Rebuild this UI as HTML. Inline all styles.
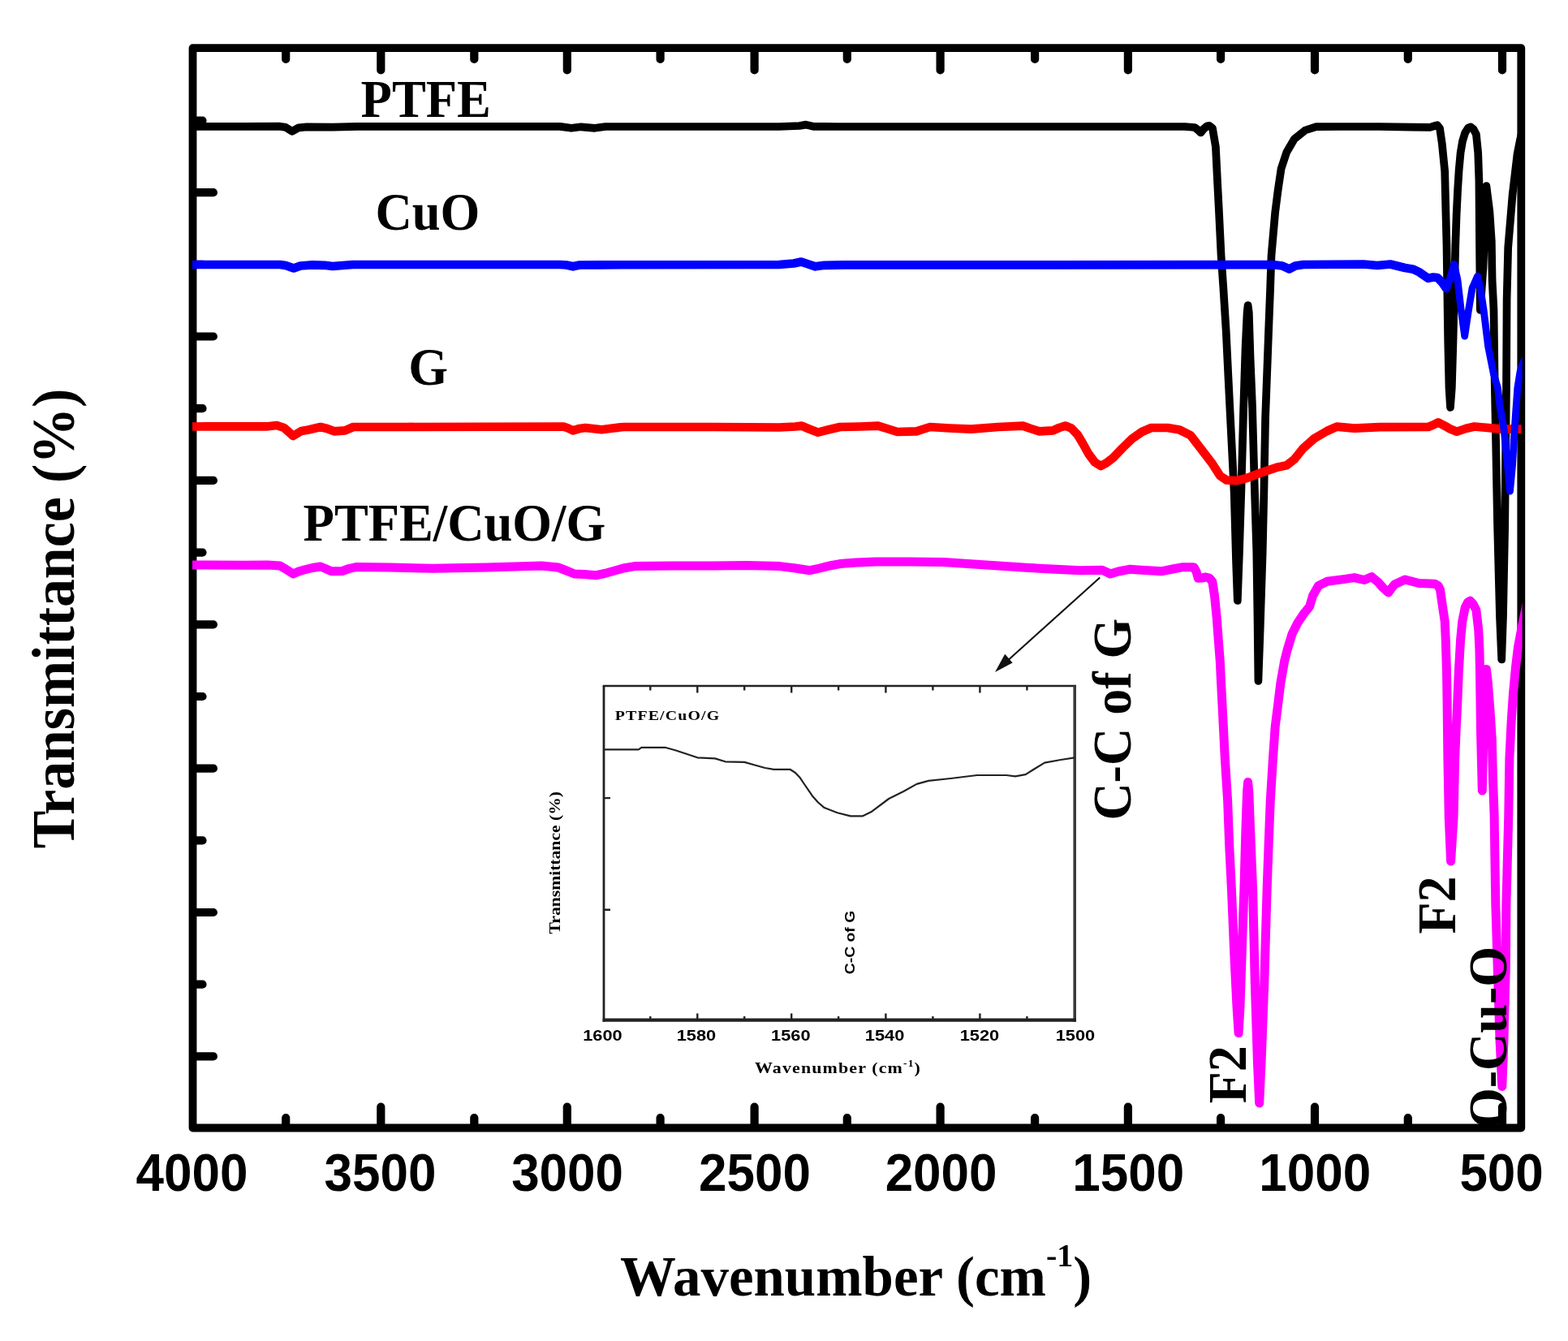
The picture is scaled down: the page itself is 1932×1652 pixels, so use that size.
<!DOCTYPE html>
<html lang="en"><head><meta charset="utf-8"><title>FTIR spectra</title>
<style>html,body{margin:0;padding:0;background:#fff}body{width:1932px;height:1652px;overflow:hidden}svg{display:block}.s{font-family:"Liberation Serif","DejaVu Serif",serif;font-weight:bold;fill:#000}.a{font-family:"Liberation Sans","DejaVu Sans",sans-serif;font-weight:bold;fill:#000}</style></head><body>
<svg width="1932" height="1652" viewBox="0 0 1932 1652">
<rect width="1932" height="1652" fill="#fff"/>
<defs><clipPath id="pc"><rect x="236.5" y="59.2" width="1639.1" height="1330.3"/></clipPath></defs>
<g fill="none" stroke="#000" stroke-width="9.8" stroke-linejoin="round" stroke-linecap="round">
<rect x="237.5" y="59.2" width="1636.8" height="1330.3"/>
<path stroke-width="10.2" d="M469.3 60.7V86.5M469.3 1388.0V1363.5M698.8 60.7V86.5M698.8 1388.0V1363.5M929.6 60.7V86.5M929.6 1388.0V1363.5M1158.6 60.7V86.5M1158.6 1388.0V1363.5M1389.9 60.7V86.5M1389.9 1388.0V1363.5M1620.0 60.7V86.5M1620.0 1388.0V1363.5M1851.0 60.7V86.5M1851.0 1388.0V1363.5M352.2 60.7V72.9M352.2 1388.0V1377.1M584.3 60.7V72.9M584.3 1388.0V1377.1M813.6 60.7V72.9M813.6 1388.0V1377.1M1043.8 60.7V72.9M1043.8 1388.0V1377.1M1275.1 60.7V72.9M1275.1 1388.0V1377.1M1504.1 60.7V72.9M1504.1 1388.0V1377.1M1734.8 60.7V72.9M1734.8 1388.0V1377.1M239.0 237.2H262.9M239.0 414.5H262.9M239.0 591.9H262.9M239.0 769.3H262.9M239.0 946.7H262.9M239.0 1124.0H262.9M239.0 1301.4H262.9M239.0 148.5H249.5M239.0 325.9H249.5M239.0 503.2H249.5M239.0 680.6H249.5M239.0 858.0H249.5M239.0 1035.4H249.5M239.0 1212.7H249.5"/>
</g>
<g fill="none" stroke-linejoin="round" stroke-linecap="butt" clip-path="url(#pc)">
<polyline stroke="#000" stroke-width="9.7" points="237.0,155.8 300.0,155.9 345.0,155.7 352.0,156.9 360.0,161.8 368.0,157.3 378.0,156.3 410.0,156.7 440.0,155.9 690.0,155.9 704.0,157.8 716.0,156.3 733.0,157.8 746.0,156.0 960.0,156.0 985.0,155.0 993.0,153.6 1002.0,155.8 1030.0,156.0 1300.0,156.0 1460.0,156.0 1472.0,157.0 1476.0,160.0 1479.5,163.5 1483.0,159.0 1487.0,155.5 1490.0,154.8 1494.0,158.0 1497.9,180.7 1499.9,221.0 1502.0,261.5 1504.6,315.0 1507.3,353.8 1510.7,407.7 1513.3,461.5 1516.0,515.3 1520.7,607.7 1523.0,690.0 1524.8,740.0 1527.0,680.0 1529.5,600.0 1532.0,510.0 1534.5,430.0 1536.6,385.0 1537.6,376.0 1538.8,385.0 1540.5,440.0 1543.0,500.0 1545.5,590.0 1548.3,680.0 1549.5,760.0 1550.4,839.0 1552.5,780.0 1555.7,680.0 1557.5,600.0 1559.1,515.0 1561.1,461.5 1563.1,407.7 1565.2,353.8 1566.5,315.0 1567.8,300.0 1571.2,261.5 1574.6,234.6 1578.6,207.7 1585.3,187.5 1594.8,171.3 1608.2,160.5 1621.7,156.1 1650.0,156.0 1700.0,156.0 1740.0,156.6 1762.0,156.8 1768.0,155.0 1771.0,154.2 1774.0,158.0 1776.8,176.9 1780.2,211.1 1781.3,256.6 1782.5,302.2 1784.2,420.0 1785.5,478.0 1787.0,502.0 1788.8,478.0 1790.5,420.0 1793.3,302.0 1794.6,265.0 1796.1,233.9 1797.6,210.0 1799.6,188.3 1802.0,174.0 1805.3,163.3 1809.0,157.5 1812.1,156.4 1815.5,159.0 1818.9,165.5 1821.2,188.3 1822.4,222.5 1823.0,300.0 1823.8,382.0 1827.5,330.0 1830.0,262.0 1831.4,229.0 1835.4,260.5 1837.8,297.0 1838.6,345.0 1840.5,381.6 1841.5,460.0 1845.1,648.0 1848.0,760.0 1850.2,812.5 1852.0,760.0 1854.2,648.0 1856.0,478.0 1856.6,369.5 1858.2,305.0 1863.6,240.0 1869.5,190.0 1873.2,171.3 1876.0,160.0 1880.0,145.0"/>
<polyline stroke="#f00" stroke-width="10.7" points="237.0,525.5 330.0,525.3 341.0,524.0 350.0,527.0 361.2,537.0 371.3,531.0 380.0,529.5 394.9,526.0 403.0,528.0 411.7,531.3 425.2,530.3 435.3,526.0 500.0,526.0 694.3,525.5 700.0,527.5 706.1,530.3 714.0,528.0 721.3,527.0 741.4,529.3 755.0,527.5 768.4,526.0 880.0,526.0 960.0,526.5 980.0,525.5 987.9,524.6 997.0,528.5 1008.0,532.7 1020.0,529.5 1035.0,526.0 1060.0,525.5 1082.0,524.6 1093.0,528.0 1105.6,532.0 1129.2,531.3 1138.0,528.5 1146.0,526.0 1170.0,527.5 1196.5,528.6 1230.0,526.0 1260.4,524.6 1270.0,528.0 1280.6,531.3 1297.4,530.3 1305.0,527.0 1312.6,524.6 1320.0,527.5 1327.7,535.4 1334.0,546.0 1341.2,559.0 1349.0,569.5 1356.3,574.0 1363.0,570.5 1371.5,564.0 1383.0,552.0 1395.0,540.4 1407.0,532.0 1418.6,527.0 1438.7,527.0 1453.5,529.6 1466.9,536.3 1480.4,553.8 1493.8,571.3 1503.3,586.1 1511.3,591.5 1523.4,592.2 1536.9,588.8 1554.4,582.1 1574.6,575.4 1585.3,573.3 1594.8,565.9 1605.5,552.5 1619.0,540.4 1635.1,531.0 1647.2,525.6 1668.8,527.6 1700.0,526.2 1759.7,526.0 1766.0,523.5 1772.2,520.4 1779.0,524.0 1787.0,528.5 1795.0,531.7 1806.0,528.0 1816.6,525.5 1848.5,528.3 1874.5,528.5"/>
<polyline stroke="#00f" stroke-width="10.7" points="237.0,326.0 345.0,326.0 352.0,327.0 361.9,330.5 370.0,327.5 385.0,326.3 400.0,326.8 410.0,328.0 422.0,327.0 435.0,326.0 690.0,326.0 698.0,326.5 706.0,328.3 714.0,326.5 740.0,326.3 960.0,326.0 978.0,324.5 987.2,322.5 996.0,325.5 1004.7,328.3 1016.0,326.8 1040.0,326.3 1300.0,326.3 1570.0,326.2 1580.0,327.5 1588.4,331.4 1596.0,327.5 1606.0,326.0 1680.0,325.5 1697.1,327.0 1713.0,325.5 1731.2,330.0 1741.6,331.8 1748.3,335.0 1759.7,342.8 1766.0,341.5 1771.1,342.0 1777.0,348.0 1782.5,356.0"/>
<polyline stroke="#00f" stroke-width="8.8" stroke-linecap="round" points="1782.5,356.0 1786.0,345.0 1791.6,325.3 1796.0,345.0 1800.0,380.0 1804.7,414.1 1809.0,385.0 1814.0,355.0 1820.6,340.1 1824.0,355.0 1828.0,381.1 1833.6,426.6 1840.4,460.8 1845.5,478.0 1848.0,500.0 1853.0,528.3 1857.6,573.9 1860.5,605.0 1863.5,573.9 1866.2,528.3 1868.2,500.0 1869.8,478.0 1873.0,458.0 1877.0,446.0 1881.0,438.0 1884.0,432.0"/>
<polyline stroke="#f0f" stroke-width="11" points="237.0,696.0 300.0,696.3 330.0,696.0 345.0,697.0 352.0,701.0 361.2,707.0 368.0,704.0 374.7,702.0 385.0,699.5 394.9,698.0 401.0,700.5 408.3,703.7 421.8,703.5 430.0,700.5 438.6,698.6 480.0,699.0 532.8,700.3 600.0,699.0 667.4,697.0 687.6,699.0 698.0,703.0 707.8,707.0 720.0,707.5 734.7,708.7 745.0,706.5 754.9,703.7 768.0,700.0 781.8,697.6 830.0,697.0 880.0,697.0 920.0,696.5 961.0,697.6 980.0,700.0 998.0,702.7 1010.0,700.0 1022.0,697.0 1035.0,694.6 1055.0,693.0 1078.7,691.9 1120.0,692.0 1162.8,692.6 1200.0,695.0 1230.1,697.0 1280.6,700.3 1331.1,702.7 1358.0,702.3 1363.0,704.5 1368.0,707.0 1378.0,704.0 1391.6,701.3 1410.0,702.5 1432.0,703.7 1445.0,701.0 1456.1,698.8 1471.0,698.8 1474.0,704.0 1476.3,712.3 1481.0,712.0 1485.8,711.0 1490.0,712.0 1493.8,716.3 1496.5,733.8 1499.2,760.7 1501.2,787.7 1503.3,814.6 1504.6,841.5 1506.6,880.0 1509.3,933.8 1512.7,987.7 1514.7,1041.5 1517.4,1095.0 1521.0,1180.0 1524.0,1240.0 1526.1,1272.6 1528.0,1240.0 1531.0,1150.0 1532.9,1096.0 1535.0,1020.0 1536.6,975.0 1537.6,963.5 1538.8,975.0 1540.5,1020.0 1543.6,1096.0 1546.3,1211.0 1549.5,1310.0 1551.7,1359.0 1554.0,1310.0 1557.8,1211.0 1561.1,1096.0 1563.1,1041.5 1565.2,987.7 1568.5,933.8 1571.2,895.3 1574.6,868.4 1577.9,841.5 1582.6,814.6 1586.0,801.1 1592.1,780.9 1598.8,767.5 1606.9,755.4 1613.6,747.3 1617.6,733.8 1624.4,721.7 1635.1,716.3 1655.3,713.6 1668.8,711.6 1680.9,714.5 1690.2,710.6 1698.2,717.4 1704.0,724.0 1710.7,730.0 1715.0,724.0 1718.7,719.7 1731.2,714.0 1748.3,718.5 1767.7,719.2 1772.0,721.5 1774.5,726.5 1776.8,742.5 1780.2,765.3 1781.3,788.0 1782.5,828.0 1783.1,865.0 1783.5,900.0 1783.9,934.0 1785.3,1008.0 1787.6,1061.0 1791.0,1008.0 1792.7,934.0 1794.1,900.0 1795.8,865.0 1797.3,828.0 1799.6,788.0 1801.8,765.3 1805.3,748.2 1808.5,742.0 1811.5,740.2 1815.0,744.0 1818.9,751.6 1821.8,776.6 1822.9,799.4 1823.5,828.0 1824.5,900.0 1826.3,974.0 1828.0,900.0 1830.0,850.0 1831.4,824.5 1833.2,840.0 1836.0,875.0 1838.3,911.0 1839.4,956.6 1841.1,1004.0 1842.8,1114.0 1845.1,1188.0 1848.0,1280.0 1850.8,1338.5 1853.0,1280.0 1855.4,1188.0 1855.9,1114.0 1858.8,1004.0 1859.9,934.0 1862.2,888.0 1864.5,854.0 1867.5,822.0 1870.5,797.0 1874.4,776.6 1879.0,754.0 1882.0,740.0"/>
</g>
<g stroke="#111" fill="#111"><line x1="1355.2" y1="711.5" x2="1238" y2="817" stroke-width="2.1"/><polygon points="1226,827.9 1238.2,805.8 1247.6,816.6" stroke="none"/></g>
<g fill="none" stroke="#222">
<path d="M742.7 845.0H1326.0" stroke-width="2.6"/>
<path d="M744.0 845.0V1258.8" stroke-width="2.8"/>
<path d="M1324.2 845.0V1258.8" stroke-width="3.6" stroke="#3a3a3a"/>
<path d="M742.6 1256.6H1326.0" stroke-width="4.4"/>
<path d="M859.3 845.0v8.5M859.3 1256.6v-8M975.2 845.0v8.5M975.2 1256.6v-8M1091.4 845.0v8.5M1091.4 1256.6v-8M1207.4 845.0v8.5M1207.4 1256.6v-8M801.3 845.0v5.5M801.3 1256.6v-4.5M917.2 845.0v5.5M917.2 1256.6v-4.5M1033.1 845.0v5.5M1033.1 1256.6v-4.5M1149.4 845.0v5.5M1149.4 1256.6v-4.5M1265.4 845.0v5.5M1265.4 1256.6v-4.5M744.0 983.1h8M744.0 1120.8h8" stroke-width="2.4"/>
<polyline stroke="#222" stroke-width="2.2" stroke-linejoin="round" points="743.7,923.3 786.8,923.3 790.4,920.8 819.4,920.8 832.1,924.2 845.0,928.5 859.3,933.3 881.0,934.4 893.7,938.3 917.2,938.9 930.0,942.5 942.6,946.0 953.5,947.8 973.4,947.8 980.0,952.0 986.1,958.6 990.0,964.5 1000.9,980.4 1008.0,988.5 1015.4,994.9 1031.7,1001.2 1048.0,1005.4 1062.5,1005.4 1073.3,1000.3 1095.1,984.0 1113.2,975.0 1129.5,965.9 1144.0,961.9 1171.2,959.0 1203.8,955.0 1240.0,955.0 1250.9,956.4 1263.6,954.1 1275.0,947.0 1287.1,939.6 1307.0,936.0 1324.2,933.3"/>
</g>
<g class="a" font-size="17.6" text-anchor="middle" fill="#111">
<text x="742.5" y="1281.8" textLength="48.5" lengthAdjust="spacingAndGlyphs">1600</text>
<text x="857.9" y="1281.8" textLength="48.5" lengthAdjust="spacingAndGlyphs">1580</text>
<text x="974.3" y="1281.8" textLength="48.5" lengthAdjust="spacingAndGlyphs">1560</text>
<text x="1090.1" y="1281.8" textLength="48.5" lengthAdjust="spacingAndGlyphs">1540</text>
<text x="1206.9" y="1281.8" textLength="48.5" lengthAdjust="spacingAndGlyphs">1520</text>
<text x="1325.0" y="1281.8" textLength="48.5" lengthAdjust="spacingAndGlyphs">1500</text>
</g>
<text class="s" font-size="17.6" x="757.8" y="887.3" textLength="129.5" lengthAdjust="spacingAndGlyphs" letter-spacing="1">PTFE/CuO/G</text>
<text class="s" font-size="19.5" x="930" y="1321.8" textLength="205" lengthAdjust="spacingAndGlyphs" letter-spacing="1">Wavenumber (cm<tspan font-size="12" dy="-8">-1</tspan><tspan dy="8">)</tspan></text>
<text class="s" font-size="19.5" transform="translate(690.2 1150.5) rotate(-90)" textLength="175.5" lengthAdjust="spacingAndGlyphs">Transmittance (%)</text>
<text class="a" font-size="17" transform="translate(1053 1200.3) rotate(-90)" textLength="78.5" lengthAdjust="spacingAndGlyphs">C-C of G</text>
<text class="s" font-size="62.7" transform="translate(444.6 144.4) scale(1 1.060)">PTFE</text>
<text class="s" font-size="62.7" transform="translate(462.4 283.4) scale(1 1.060)">CuO</text>
<text class="s" font-size="62.7" transform="translate(503.2 474.2) scale(1 1.060)">G</text>
<text class="s" font-size="62.7" transform="translate(373.6 665.7) scale(1 1.060)">PTFE/CuO/G</text>
<text class="s" font-size="64" transform="translate(1393.2 1010.6) rotate(-90) scale(1 1.050)">C-C of G</text>
<text class="s" font-size="64" transform="translate(1535.4 1359.3) rotate(-90) scale(1 1.050)">F2</text>
<text class="s" font-size="64" transform="translate(1793.4 1150.6) rotate(-90) scale(1 1.050)">F2</text>
<text class="s" font-size="64" transform="translate(1856.0 1390.0) rotate(-90) scale(1 1.050)">O-Cu-O</text>
<text class="a" font-size="62" transform="translate(236.5 1467.2) scale(1 1.055)" text-anchor="middle">4000</text>
<text class="a" font-size="62" transform="translate(468.4 1467.2) scale(1 1.055)" text-anchor="middle">3500</text>
<text class="a" font-size="62" transform="translate(699.1 1467.2) scale(1 1.055)" text-anchor="middle">3000</text>
<text class="a" font-size="62" transform="translate(929.9 1467.2) scale(1 1.055)" text-anchor="middle">2500</text>
<text class="a" font-size="62" transform="translate(1159.6 1467.2) scale(1 1.055)" text-anchor="middle">2000</text>
<text class="a" font-size="62" transform="translate(1390.2 1467.2) scale(1 1.055)" text-anchor="middle">1500</text>
<text class="a" font-size="62" transform="translate(1620.3 1467.2) scale(1 1.055)" text-anchor="middle">1000</text>
<text class="a" font-size="62" transform="translate(1850.1 1467.2) scale(1 1.055)" text-anchor="middle">500</text>
<text class="s" font-size="68.9" transform="translate(764.0 1596.0)">Wavenumber (cm<tspan font-size="40" dy="-36">-1</tspan><tspan dy="36">)</tspan></text>
<text class="s" font-size="69.8" transform="translate(91.0 1045.2) rotate(-90) scale(1 1.050)">Transmittance (%)</text>
</svg></body></html>
